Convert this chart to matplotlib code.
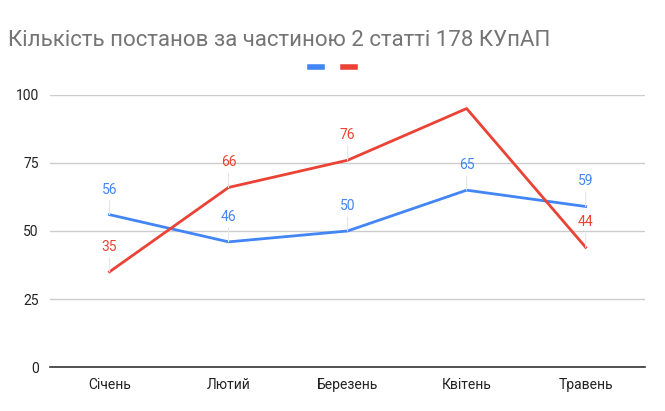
import matplotlib.pyplot as plt
from matplotlib.lines import Line2D

plt.rcParams['font.family'] = ['Roboto', 'DejaVu Sans']

# дані
misyatsi = ["Січень", "Лютий", "Березень", "Квітень", "Травень"]
seriya_1 = [56, 46, 50, 65, 59]
seriya_2 = [35, 66, 76, 95, 44]
pidpysy_2 = ["35", "66", "76", "", "44"]
y_ticks = [0, 25, 50, 75, 100]

BLUE = "#4285F4"
RED = "#EA4335"

fig = plt.figure(figsize=(6.65, 4.11), dpi=100)
ax = fig.add_axes([0.0752, 0.107, 0.895, 0.662])

x = list(range(len(misyatsi)))
ax.plot(x, seriya_1, color=BLUE, lw=2, zorder=3)
ax.plot(x, seriya_2, color=RED, lw=2, zorder=3)

def pidpysaty(vals, labels, color):
    for xi, v, t in zip(x, vals, labels):
        if not t:
            continue
        ax.annotate(t, xy=(xi, v), xytext=(0, 13), textcoords="offset points",
                    ha="center", va="bottom", color=color, fontsize=10,
                    arrowprops=dict(arrowstyle="-", color="#e6e6e6", lw=0.8,
                                    shrinkA=1, shrinkB=0))

pidpysaty(seriya_1, [str(v) for v in seriya_1], BLUE)
pidpysaty(seriya_2, pidpysy_2, RED)

ax.set_xlim(-0.5, len(misyatsi) - 0.5)
ax.set_ylim(0, 100)
ax.set_yticks(y_ticks)
ax.set_xticks(x)
ax.set_xticklabels(misyatsi)
ax.tick_params(length=0, labelsize=10, colors="#222222", pad=8)
ax.grid(axis="y", color="#cccccc", lw=1)
ax.set_axisbelow(True)
for s in ["top", "right", "left"]:
    ax.spines[s].set_visible(False)
ax.spines["bottom"].set_color("#333333")
ax.spines["bottom"].set_linewidth(1.2)

fig.text(0.012, 0.888, "Кількість постанов за частиною 2 статті 178 КУпАП",
         fontsize=16, color="#757575", ha="left", va="baseline")

handles = [Line2D([], [], color=BLUE, lw=4), Line2D([], [], color=RED, lw=4)]
fig.legend(handles, ["", ""], loc="center", bbox_to_anchor=(0.5, 0.835),
           ncol=2, frameon=False, handlelength=0.9, columnspacing=1.5,
           handletextpad=0)

fig.savefig("out.png", dpi=100)
